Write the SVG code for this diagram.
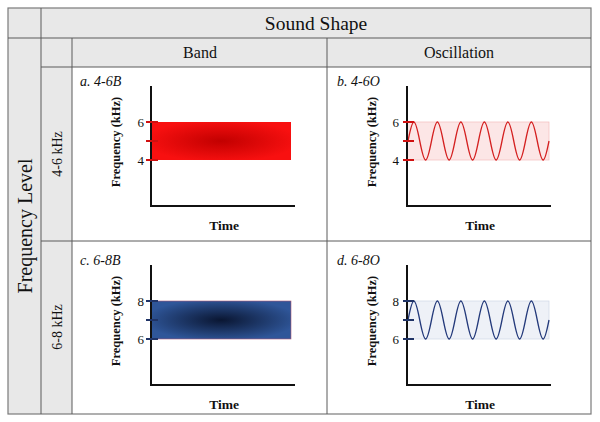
<svg xmlns="http://www.w3.org/2000/svg" width="600" height="422" viewBox="0 0 600 422">
<defs>
<radialGradient id="gRed" cx="0.5" cy="0.5" r="0.55">
<stop offset="0" stop-color="#c20000"/>
<stop offset="1" stop-color="#f81010"/>
</radialGradient>
<radialGradient id="gBlue" cx="0.5" cy="0.5" r="0.55">
<stop offset="0" stop-color="#0a1632"/>
<stop offset="1" stop-color="#2f5699"/>
</radialGradient>
</defs>
<style>
.hdr{fill:#e8e8e8}
.grid{stroke:#5a5a5a;stroke-width:1;fill:none}
.t{font-family:"Liberation Serif","Times New Roman",serif;fill:#111}
.plab{font-family:"Liberation Serif","Times New Roman",serif;font-style:italic;font-size:14px;fill:#111}
.ax{stroke:#111;stroke-width:2;fill:none}
.bold{font-family:"Liberation Serif","Times New Roman",serif;font-weight:bold;fill:#111}
.num{font-family:"Liberation Serif","Times New Roman",serif;font-size:13px;fill:#111;text-anchor:end}
.tr{stroke:#d01010;stroke-width:2}
.tb{stroke:#1f3366;stroke-width:2}
</style>
<rect x="0" y="0" width="600" height="422" fill="#fff"/>
<g id="table">
<rect class="hdr" x="8" y="8" width="583" height="59"/>
<rect class="hdr" x="8" y="67" width="64" height="347"/>
<rect x="72" y="67" width="519" height="347" fill="#fff"/>
<rect x="8" y="8" width="583" height="406" fill="none" stroke="#7a7a7a" stroke-width="1.2"/>
<path class="grid" d="M41,8V414 M72,38V414 M327,38V414 M8,38H591 M41,67H591 M41,241H591"/>
</g>
<g id="header">
<text class="t" x="316" y="30" font-size="19.5" text-anchor="middle">Sound Shape</text>
<text class="t" x="200" y="58" font-size="16" text-anchor="middle">Band</text>
<text class="t" x="459" y="58" font-size="16" text-anchor="middle">Oscillation</text>
<text class="t" font-size="20" text-anchor="middle" transform="translate(32,226) rotate(-90)">Frequency Level</text>
<text class="t" font-size="14" text-anchor="middle" transform="translate(62,154) rotate(-90)">4-6 kHz</text>
<text class="t" font-size="14" text-anchor="middle" transform="translate(62,327) rotate(-90)">6-8 kHz</text>
</g>
<g id="plot-a">
<text class="plab" x="80" y="86">a. 4-6B</text>
<rect x="151" y="122" width="140" height="38" fill="url(#gRed)"/>
<path class="ax" d="M151,86V206H295"/>
<path class="tr" d="M146,122H158 M146,141H158 M146,160H158"/>
<text class="num" x="144" y="127">6</text>
<text class="num" x="144" y="165">4</text>
<text class="bold" font-size="12.5" text-anchor="middle" transform="translate(120,142) rotate(-90)">Frequency (kHz)</text>
<text class="bold" font-size="13.5" x="224" y="230" text-anchor="middle">Time</text>
</g>
<g id="plot-b" transform="translate(256,0)">
<text class="plab" x="81" y="86">b. 4-6O</text>
<rect x="151" y="122" width="142" height="38" fill="#fce6e6" stroke="#f2bcbc" stroke-width="0.7"/>
<path d="M152,141 c1.916,-9.73 3.768,-19 5.875,-19 s3.959,9.27 5.875,19 s3.768,19 5.875,19 s3.959,-9.27 5.875,-19 s3.768,-19 5.875,-19 s3.959,9.27 5.875,19 s3.768,19 5.875,19 s3.959,-9.27 5.875,-19 s3.768,-19 5.875,-19 s3.959,9.27 5.875,19 s3.768,19 5.875,19 s3.959,-9.27 5.875,-19 s3.768,-19 5.875,-19 s3.959,9.27 5.875,19 s3.768,19 5.875,19 s3.959,-9.27 5.875,-19 s3.768,-19 5.875,-19 s3.959,9.27 5.875,19 s3.768,19 5.875,19 s3.959,-9.27 5.875,-19 s3.768,-19 5.875,-19 s3.959,9.27 5.875,19 s3.768,19 5.875,19 s3.959,-9.27 5.875,-19" fill="none" stroke="#d42020" stroke-width="1.3"/>
<path class="ax" d="M151,86V206H295"/>
<path class="tr" d="M147,122H158 M147,141H158 M147,160H158"/>
<text class="num" x="143" y="127">6</text>
<text class="num" x="143" y="165">4</text>
<text class="bold" font-size="12.5" text-anchor="middle" transform="translate(120,142) rotate(-90)">Frequency (kHz)</text>
<text class="bold" font-size="13.5" x="224" y="230" text-anchor="middle">Time</text>
</g>
<g id="plot-c" transform="translate(0,179)">
<text class="plab" x="80" y="86">c. 6-8B</text>
<rect x="151" y="122" width="140" height="38" fill="url(#gBlue)" stroke="#b05a78" stroke-width="0.6"/>
<path class="ax" d="M151,86V206H295"/>
<path class="tb" d="M146,122H158 M146,141H158 M146,160H158"/>
<text class="num" x="144" y="127">8</text>
<text class="num" x="144" y="165">6</text>
<text class="bold" font-size="12.5" text-anchor="middle" transform="translate(120,142) rotate(-90)">Frequency (kHz)</text>
<text class="bold" font-size="13.5" x="224" y="230" text-anchor="middle">Time</text>
</g>
<g id="plot-d" transform="translate(256,179)">
<text class="plab" x="81" y="86">d. 6-8O</text>
<rect x="151" y="122" width="142" height="38" fill="#eef1f7" stroke="#cfd6e6" stroke-width="0.7"/>
<path d="M152,141 c1.916,-9.73 3.768,-19 5.875,-19 s3.959,9.27 5.875,19 s3.768,19 5.875,19 s3.959,-9.27 5.875,-19 s3.768,-19 5.875,-19 s3.959,9.27 5.875,19 s3.768,19 5.875,19 s3.959,-9.27 5.875,-19 s3.768,-19 5.875,-19 s3.959,9.27 5.875,19 s3.768,19 5.875,19 s3.959,-9.27 5.875,-19 s3.768,-19 5.875,-19 s3.959,9.27 5.875,19 s3.768,19 5.875,19 s3.959,-9.27 5.875,-19 s3.768,-19 5.875,-19 s3.959,9.27 5.875,19 s3.768,19 5.875,19 s3.959,-9.27 5.875,-19 s3.768,-19 5.875,-19 s3.959,9.27 5.875,19 s3.768,19 5.875,19 s3.959,-9.27 5.875,-19" fill="none" stroke="#23397a" stroke-width="1.3"/>
<path class="ax" d="M151,86V206H295"/>
<path class="tb" d="M147,122H158 M147,141H158 M147,160H158"/>
<text class="num" x="143" y="127">8</text>
<text class="num" x="143" y="165">6</text>
<text class="bold" font-size="12.5" text-anchor="middle" transform="translate(120,142) rotate(-90)">Frequency (kHz)</text>
<text class="bold" font-size="13.5" x="224" y="230" text-anchor="middle">Time</text>
</g>
</svg>
